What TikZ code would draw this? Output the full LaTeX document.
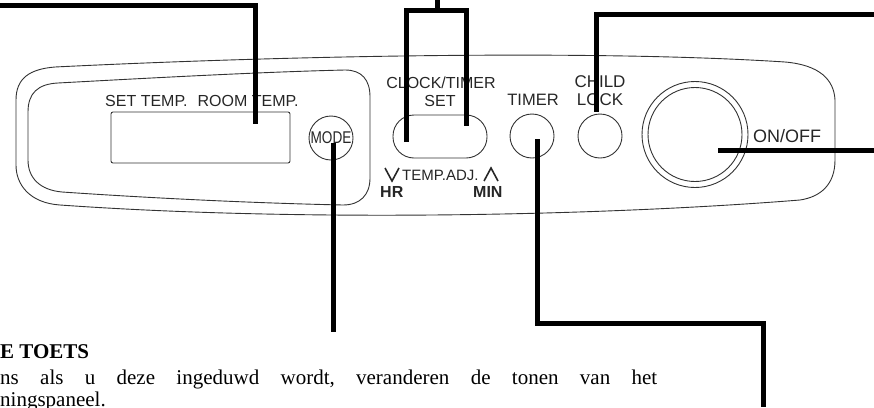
\documentclass[tikz,border=0pt]{standalone}
\usepackage{fontspec}
\usepackage{graphicx}
\newfontfamily\bodyfont{Liberation Serif}
\newfontfamily\panelfont{Liberation Sans}
\tikzset{
  leader/.style={line width=5pt, black, line cap=butt, line join=miter},
  panel/.style={line width=0.9pt, black!80},
  btn/.style={circle, draw=black!80, line width=0.9pt, inner sep=0pt},
  ptext/.style={inner sep=0pt, text=black!85, font=\panelfont\fontsize{16}{18}\selectfont},
  btext/.style={inner sep=0pt, anchor=base west, font=\bodyfont\fontsize{21}{24}\selectfont}
}
\begin{document}
\begin{tikzpicture}[x=1pt,y=-1pt]
\useasboundingbox (0,0) rectangle (874,407);
% outer panel outline
\draw[panel] (16,100) .. controls (16,78) and (30,69) .. (55,67)
  .. controls (300,55) and (600,50) .. (785,62)
  .. controls (820,65) and (834,80) .. (835,100) -- (835,160)
  .. controls (835,185) and (820,197) .. (800,200)
  .. controls (600,216) and (300,222) .. (60,205)
  .. controls (30,203) and (16,185) .. (16,165) -- cycle;
% inner bezel
\draw[panel] (28,112) .. controls (28,93) and (38,84) .. (58,83)
  .. controls (150,78) and (260,72) .. (345,70)
  .. controls (362,70) and (370,80) .. (370,97) -- (370,178)
  .. controls (370,195) and (360,205) .. (343,205)
  .. controls (250,203) and (150,198) .. (62,192)
  .. controls (40,190) and (28,178) .. (28,160) -- cycle;
% display
\node[draw=black!80, line width=0.9pt, rounded corners=2pt, minimum width=179pt, minimum height=51pt, inner sep=0pt] (display) at (200.5,137.5) {};
\node[ptext, anchor=base west] (settemp) at (105,106) {SET TEMP.\hspace{10pt}ROOM TEMP.};
% mode
\node[btn, minimum size=44pt] (mode) at (331,138) {};
\node[ptext, font=\panelfont\fontsize{17}{19}\selectfont] (modetxt) at (331,138) {\scalebox{0.8}[1]{MODE}};
% clock/timer
\node[ptext, anchor=base] (clock) at (441,88) {CLOCK/TIMER};
\node[ptext, anchor=base] (set) at (440,106) {SET};
\node[draw=black!80, line width=0.9pt, rounded corners=21pt, minimum width=94pt, minimum height=43pt, inner sep=0pt] (adj) at (440,136.5) {};
\node[ptext, anchor=base west, font=\panelfont\fontsize{15}{17}\selectfont] (tempadj) at (402,180) {TEMP.ADJ.};
\draw[line width=1.6pt, black!85] (385,168) -- (392,181) -- (399,168);
\draw[line width=1.6pt, black!85] (484,181) -- (491,168) -- (498,181);
\node[ptext, anchor=base west, font=\panelfont\bfseries\fontsize{16}{18}\selectfont] (hr) at (380,197.5) {HR};
\node[ptext, anchor=base west, font=\panelfont\bfseries\fontsize{16}{18}\selectfont] (min) at (473,197.5) {MIN};
% timer
\node[ptext, anchor=base, font=\panelfont\fontsize{16.5}{18}\selectfont] (timertxt) at (533,105.5) {TIMER};
\node[btn, minimum size=44pt] (timer) at (532,136) {};
% child lock
\node[ptext, anchor=base, font=\panelfont\fontsize{17}{19}\selectfont] (child) at (600,87.5) {CHILD};
\node[ptext, anchor=base, font=\panelfont\fontsize{17}{19}\selectfont] (lock) at (600,105.5) {LOCK};
\node[btn, minimum size=44pt] (childlock) at (600,136) {};
% on/off
\node[btn, minimum size=106pt] (onoffout) at (695,134.5) {};
\node[btn, minimum size=94pt] (onoff) at (695,134.5) {};
\node[ptext, anchor=base west, font=\panelfont\fontsize{18}{20}\selectfont] (onofftxt) at (753,142) {ON/OFF};
% leader coordinates
\coordinate (dispEnd) at (255,124);
\coordinate (dispCorner) at (255,5);
\coordinate (dispFree) at (0,5);
\coordinate (brStem) at (437,0);
\coordinate (brMid) at (437,10);
\coordinate (brL) at (406,10);
\coordinate (brR) at (466,10);
\coordinate (brLend) at (406,142);
\coordinate (brRend) at (466,126);
\coordinate (clEnd) at (596,112);
\coordinate (clCorner) at (596,14);
\coordinate (clFree) at (874,14);
\coordinate (onEnd) at (718,150);
\coordinate (onFree) at (874,150);
\coordinate (modeEnd) at (333,143);
\coordinate (modeFree) at (333,332);
\coordinate (tmEnd) at (537,139);
\coordinate (tmC1) at (537,323);
\coordinate (tmC2) at (763,323);
\coordinate (tmFree) at (763,407);
% leaders
\draw[leader] (dispFree) -- (dispCorner) -- (dispEnd);
\draw[leader] (brStem) -- (brMid);
\draw[leader] (brLend) -- (brL) -- (brR) -- (brRend);
\draw[leader] (clFree) -- (clCorner) -- (clEnd);
\draw[leader] (onEnd) -- (onFree);
\draw[leader] (modeEnd) -- (modeFree);
\draw[leader] (tmEnd) -- (tmC1) -- (tmC2) -- (tmFree);
% body text
\node[btext, font=\bodyfont\bfseries\fontsize{21}{24}\selectfont] (head) at (0,358) {E TOETS};
\node[btext] (line2) at (0,384) {\hbox to 657pt{ns\hfill als\hfill u\hfill deze\hfill ingeduwd\hfill wordt,\hfill veranderen\hfill de\hfill tonen\hfill van\hfill het}};
\node[btext] (line3) at (0,406) {ningspaneel.};
\end{tikzpicture}
\end{document}
